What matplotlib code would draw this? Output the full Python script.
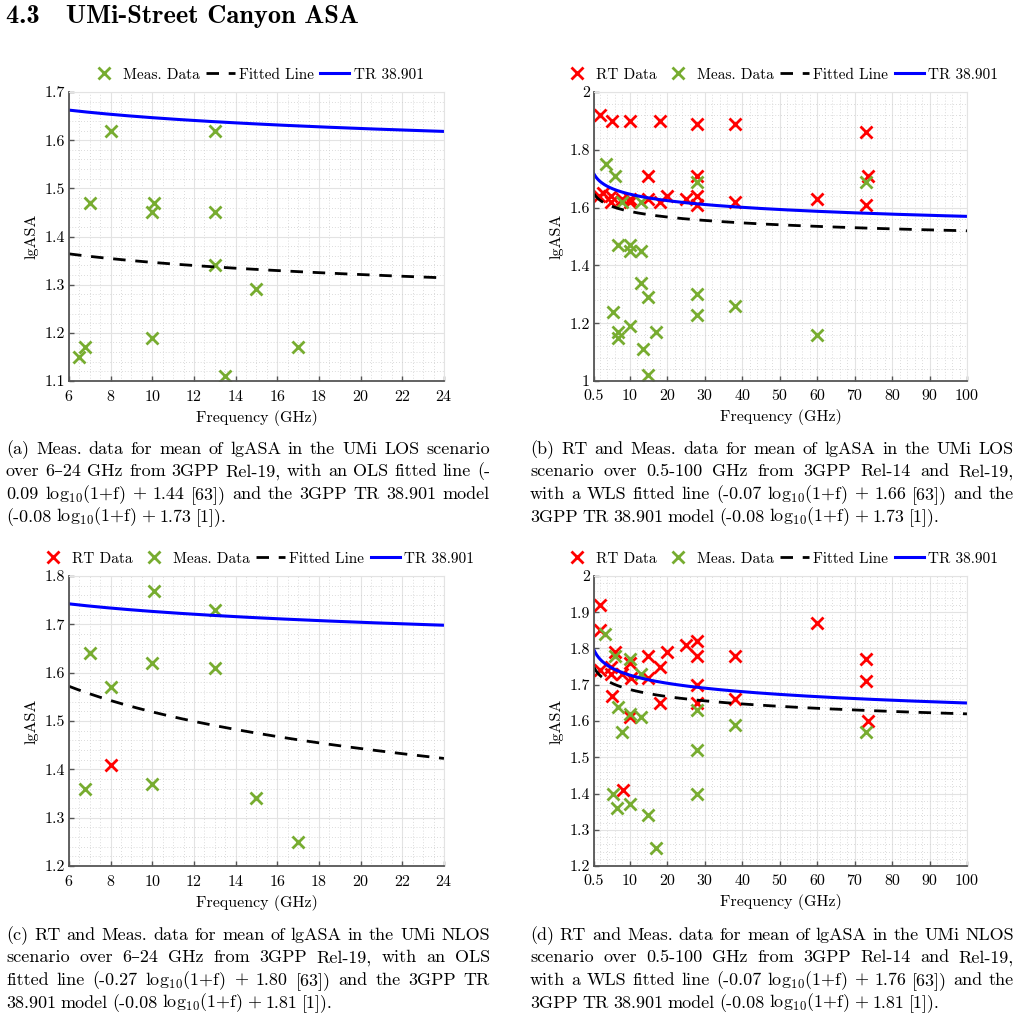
import numpy as np
import matplotlib
matplotlib.use("Agg")
import matplotlib.pyplot as plt
from matplotlib.ticker import MultipleLocator

plt.rcParams['font.family'] = ['cmr10', 'DejaVu Serif']
plt.rcParams['mathtext.fontset'] = 'cm'
plt.rcParams['axes.formatter.use_mathtext'] = True

# (a) UMi LOS, 6-24 GHz
f_a_meas = [6.5, 6.75, 7, 8, 10, 10, 10.1, 13, 13, 13, 13.5, 15, 17]
y_a_meas = [1.15, 1.17, 1.47, 1.62, 1.45, 1.19, 1.47, 1.62, 1.45, 1.34, 1.11, 1.29, 1.17]

# (b) UMi LOS, 0.5-100 GHz
f_b_rt = [2.2, 5.3, 10, 18, 28, 38, 73, 15, 28, 73.5,
          1.8, 2.8, 5, 5, 8, 10, 10, 15, 18, 20, 25, 28, 28, 38, 60, 73]
y_b_rt = [1.92, 1.90, 1.90, 1.90, 1.89, 1.89, 1.86, 1.71, 1.71, 1.71,
          1.64, 1.65, 1.64, 1.62, 1.63, 1.63, 1.62, 1.63, 1.62, 1.64, 1.63, 1.64, 1.61, 1.62, 1.63, 1.61]
f_b_meas = [3.7, 6.1, 8, 13, 28, 73, 7, 10, 10, 13, 13, 15, 5.5, 7, 7, 10, 17, 13.5, 15,
            28, 28, 38, 60]
y_b_meas = [1.75, 1.71, 1.62, 1.62, 1.69, 1.69, 1.47, 1.47, 1.45, 1.45, 1.34, 1.29, 1.24,
            1.17, 1.15, 1.19, 1.17, 1.11, 1.02, 1.30, 1.23, 1.26, 1.16]

# (c) UMi NLOS, 6-24 GHz
f_c_rt = [8]
y_c_rt = [1.41]
f_c_meas = [6.75, 7, 8, 10, 10.1, 10, 13, 13, 15, 17]
y_c_meas = [1.36, 1.64, 1.57, 1.62, 1.77, 1.37, 1.73, 1.61, 1.34, 1.25]

# (d) UMi NLOS, 0.5-100 GHz
f_d_rt = [2.2, 2.2, 2.2, 5, 5, 5.2, 6.1, 8, 8.3, 10, 10.3, 10, 15, 15, 18, 18, 20, 25,
          28, 28, 28, 28, 38, 38, 60, 73, 73, 73.7]
y_d_rt = [1.92, 1.85, 1.74, 1.75, 1.73, 1.67, 1.79, 1.73, 1.41, 1.76, 1.72, 1.61, 1.78, 1.72,
          1.75, 1.65, 1.79, 1.81, 1.82, 1.78, 1.70, 1.65, 1.78, 1.66, 1.87, 1.77, 1.71, 1.60]
f_d_meas = [3.5, 6.1, 10.2, 13, 7, 10, 13, 8, 28, 38, 73, 28, 28, 5.5, 6.75, 10, 15, 17]
y_d_meas = [1.84, 1.78, 1.77, 1.73, 1.64, 1.62, 1.61, 1.57, 1.63, 1.59, 1.57, 1.52, 1.40,
            1.40, 1.36, 1.37, 1.34, 1.25]

# model coefficients from the captions: slope, intercept
fit_coef = {"a": (-0.09, 1.44), "b": (-0.07, 1.66), "c": (-0.27, 1.80), "d": (-0.07, 1.76)}
tr_coef = {"a": (-0.08, 1.73), "b": (-0.08, 1.73), "c": (-0.08, 1.81), "d": (-0.08, 1.81)}

captions = {
    "a": ["(a) Meas. data for mean of lgASA in the UMi LOS scenario",
          "over 6–24 GHz from 3GPP Rel-19, with an OLS fitted line (-",
          "0.09 log$_{10}$(1+f) + 1.44 [63]) and the 3GPP TR 38.901 model",
          "(-0.08 log$_{10}$(1+f) + 1.73 [1])."],
    "b": ["(b) RT and Meas. data for mean of lgASA in the UMi LOS",
          "scenario over 0.5-100 GHz from 3GPP Rel-14 and Rel-19,",
          "with a WLS fitted line (-0.07 log$_{10}$(1+f) + 1.66 [63]) and the",
          "3GPP TR 38.901 model (-0.08 log$_{10}$(1+f) + 1.73 [1])."],
    "c": ["(c) RT and Meas. data for mean of lgASA in the UMi NLOS",
          "scenario over 6–24 GHz from 3GPP Rel-19, with an OLS",
          "fitted line (-0.27 log$_{10}$(1+f) + 1.80 [63]) and the 3GPP TR",
          "38.901 model (-0.08 log$_{10}$(1+f) + 1.81 [1])."],
    "d": ["(d) RT and Meas. data for mean of lgASA in the UMi NLOS",
          "scenario over 0.5-100 GHz from 3GPP Rel-14 and Rel-19,",
          "with a WLS fitted line (-0.07 log$_{10}$(1+f) + 1.76 [63]) and the",
          "3GPP TR 38.901 model (-0.08 log$_{10}$(1+f) + 1.81 [1])."],
}

GREEN = (0.466, 0.674, 0.188)
W, H = 1020, 1016
fig = plt.figure(figsize=(W / 100, H / 100), dpi=100)

# axes boxes in pixels: left, top, right, bottom
boxes = {"a": (69, 92, 444, 381), "b": (594, 92, 967, 381),
         "c": (69, 576, 444, 866), "d": (594, 576, 967, 866)}

panels = {
    "a": (None, None, f_a_meas, y_a_meas, (6, 24), (1.1, 1.7)),
    "b": (f_b_rt, y_b_rt, f_b_meas, y_b_meas, (0.5, 100), (1.0, 2.0)),
    "c": (f_c_rt, y_c_rt, f_c_meas, y_c_meas, (6, 24), (1.2, 1.8)),
    "d": (f_d_rt, y_d_rt, f_d_meas, y_d_meas, (0.5, 100), (1.2, 2.0)),
}


def yfmt(v, p):
    return f"{v:.0f}" if abs(v - round(v)) < 1e-9 else f"{v:.1f}"


for key, (frt, yrt, fme, yme, xl, yl) in panels.items():
    l, t, r, b = boxes[key]
    ax = fig.add_axes([l / W, 1 - b / H, (r - l) / W, (b - t) / H])
    mk = dict(marker="x", linestyle="none", markersize=8.5, markeredgewidth=2.0)
    if frt is not None:
        ax.plot(frt, yrt, color="red", label="RT Data", **mk)
    ax.plot(fme, yme, color=GREEN, label="Meas. Data", **mk)
    ff = np.linspace(xl[0], xl[1], 400)
    s, c = fit_coef[key]
    ax.plot(ff, s * np.log10(1 + ff) + c, color="black", lw=2.0, ls=(0, (4.5, 3.5)),
            label="Fitted Line")
    s, c = tr_coef[key]
    ax.plot(ff, s * np.log10(1 + ff) + c, color="blue", lw=2.2, label="TR 38.901")
    ax.set_xlim(*xl)
    ax.set_ylim(*yl)
    if xl[1] == 24:
        ax.xaxis.set_major_locator(MultipleLocator(2))
        ax.xaxis.set_minor_locator(MultipleLocator(0.5))
    else:
        ax.set_xticks([0.5] + list(range(10, 101, 10)))
        ax.set_xticklabels(["0.5"] + [str(v) for v in range(10, 101, 10)])
        ax.xaxis.set_minor_locator(MultipleLocator(2))
    if yl[0] == 1.0:
        ax.yaxis.set_major_locator(MultipleLocator(0.2))
        ax.yaxis.set_minor_locator(MultipleLocator(0.04))
    else:
        ax.yaxis.set_major_locator(MultipleLocator(0.1))
        ax.yaxis.set_minor_locator(MultipleLocator(0.02))
    ax.yaxis.set_major_formatter(plt.FuncFormatter(yfmt))
    ax.grid(True, which="major", color="#e3e3e3", lw=0.8)
    ax.grid(True, which="minor", color="#cfcfcf", lw=0.6, ls=(0, (1, 2.5)))
    ax.set_axisbelow(True)
    for sp in ["top", "right"]:
        ax.spines[sp].set_color("#e3e3e3")
        ax.spines[sp].set_linewidth(0.8)
    for sp in ["left", "bottom"]:
        ax.spines[sp].set_color("#555555")
        ax.spines[sp].set_linewidth(1.3)
    ax.tick_params(which="major", direction="in", length=3.5, width=1.0, color="#555555",
                   labelsize=11.5, pad=3, top=False, right=False)
    ax.tick_params(axis="x", which="major", pad=6)
    ax.tick_params(which="minor", length=0)
    ax.set_xlabel("Frequency (GHz)", fontsize=11.5, labelpad=4)
    ax.set_ylabel("lgASA", fontsize=11.5, labelpad=4)
    ax.legend(loc="lower center", bbox_to_anchor=(0.5, 1.015), ncol=4, frameon=False,
              fontsize=11, handlelength=1.9, handletextpad=0.3, columnspacing=0.4,
              borderaxespad=0.0)

fig.text(6 / W, 1 - 16 / H, "4.3   UMi-Street Canyon ASA", family=["cmb10", "DejaVu Serif"],
         fontsize=19, fontweight="bold", va="center", ha="left")


def justify(x0, x1, y, line, last):
    words = line.split(" ")
    ren = fig.canvas.get_renderer()
    texts = [fig.text(0, 0, w, fontsize=13, va="baseline", ha="left") for w in words]
    widths = [tt.get_window_extent(ren).width for tt in texts]
    sp = 4.5 if last else ((x1 - x0) - sum(widths)) / (len(words) - 1)
    x = x0
    for tt, w in zip(texts, widths):
        tt.set_position((x / W, 1 - y / H))
        x += w + sp


cap_pos = {"a": (6, 490, 454), "b": (530, 1014, 454), "c": (6, 490, 940), "d": (530, 1014, 940)}
for key, lines in captions.items():
    x0, x1, y0 = cap_pos[key]
    for i, line in enumerate(lines):
        justify(x0, x1, y0 + i * 22.5, line, i == len(lines) - 1)

fig.savefig("out.png", dpi=100)
